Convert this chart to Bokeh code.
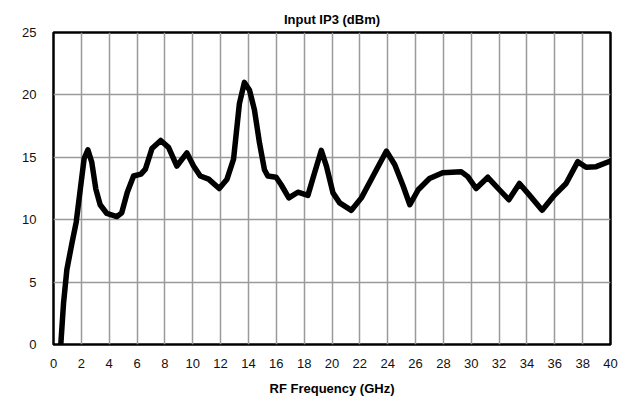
from bokeh.plotting import figure
from bokeh.models import Range1d, FixedTicker
from bokeh.embed import file_html
from bokeh.resources import INLINE

freq_ghz = [0.45, 0.53, 0.72, 0.96, 1.32, 1.63, 1.92, 2.2, 2.47, 2.75, 3.04, 3.35, 3.83,
            4.55, 4.9, 5.3, 5.75, 6.28, 6.6, 7.07, 7.7, 8.26, 8.86, 9.58, 10.06, 10.54,
            11.14, 11.9, 12.46, 12.93, 13.35, 13.71, 14.07, 14.43, 14.8, 15.15, 15.39,
            15.99, 16.35, 16.9, 17.55, 18.27, 18.68, 19.23, 19.6, 20.07, 20.55, 21.39,
            22.11, 22.95, 23.91, 24.51, 25.11, 25.59, 26.19, 27.0, 27.95, 29.27, 29.75,
            30.35, 31.19, 32.02, 32.7, 33.46, 34.18, 35.09, 35.98, 36.81, 37.65, 38.25,
            38.97, 40.0]
iip3_dbm = [-0.5, 0.1, 3.3, 6.0, 8.1, 9.8, 12.4, 14.9, 15.6, 14.6, 12.45, 11.2, 10.5,
            10.25, 10.55, 12.2, 13.5, 13.65, 14.05, 15.7, 16.35, 15.8, 14.3, 15.35, 14.3, 13.5,
            13.25, 12.5, 13.25, 14.85, 19.3, 21.0, 20.4, 18.8, 16.1, 14.0, 13.5,
            13.4, 12.8, 11.75, 12.2, 11.95, 13.5, 15.55, 14.3, 12.15, 11.35, 10.75,
            11.75, 13.5, 15.5, 14.4, 12.7, 11.2, 12.4, 13.3, 13.77, 13.85, 13.45,
            12.5, 13.4, 12.4, 11.6, 12.9, 11.97, 10.76, 11.97, 12.9, 14.65, 14.2,
            14.25, 14.7]
x_ticks = list(range(0, 41, 2))
y_ticks = [0, 5, 10, 15, 20, 25]

FONT = "Liberation Sans"

p = figure(width=623, height=398, output_backend="svg", toolbar_location=None,
           x_range=Range1d(0, 40), y_range=Range1d(0, 25),
           min_border_left=53, min_border_right=13, min_border_top=32, min_border_bottom=40)

p.title.text = "Input IP3 (dBm)"
p.title.align = "center"
p.title.vertical_align = "middle"
p.title.text_font = FONT
p.title.text_font_size = "13px"
p.title.text_font_style = "bold"
p.title.text_color = "black"

p.line(freq_ghz, iip3_dbm, line_color="black", line_width=5.5, line_join="round", line_cap="round")

p.xaxis.ticker = FixedTicker(ticks=x_ticks)
p.yaxis.ticker = FixedTicker(ticks=y_ticks)
for ax in (p.xaxis[0], p.yaxis[0]):
    ax.axis_line_color = None
    ax.major_tick_line_color = None
    ax.minor_tick_line_color = None
    ax.major_label_text_font = FONT
    ax.major_label_text_font_size = "13px"
    ax.major_label_text_color = "#111111"
p.xaxis.major_label_standoff = 8
p.yaxis.major_label_standoff = 11
p.xaxis.axis_label = "RF Frequency (GHz)"
p.xaxis.axis_label_text_font = FONT
p.xaxis.axis_label_text_font_size = "13px"
p.xaxis.axis_label_text_font_style = "bold"
p.xaxis.axis_label_text_color = "black"
p.xaxis.axis_label_standoff = 10

p.xgrid.grid_line_color = "#9a9a9a"
p.ygrid.grid_line_color = "#9a9a9a"
p.xgrid.grid_line_width = 1.5
p.ygrid.grid_line_width = 1.5

p.outline_line_color = "black"
p.outline_line_width = 2.5
p.outline_line_alpha = 1.0
p.background_fill_color = "white"
p.border_fill_color = "white"

open("out.html", "w").write(file_html(p, INLINE))
